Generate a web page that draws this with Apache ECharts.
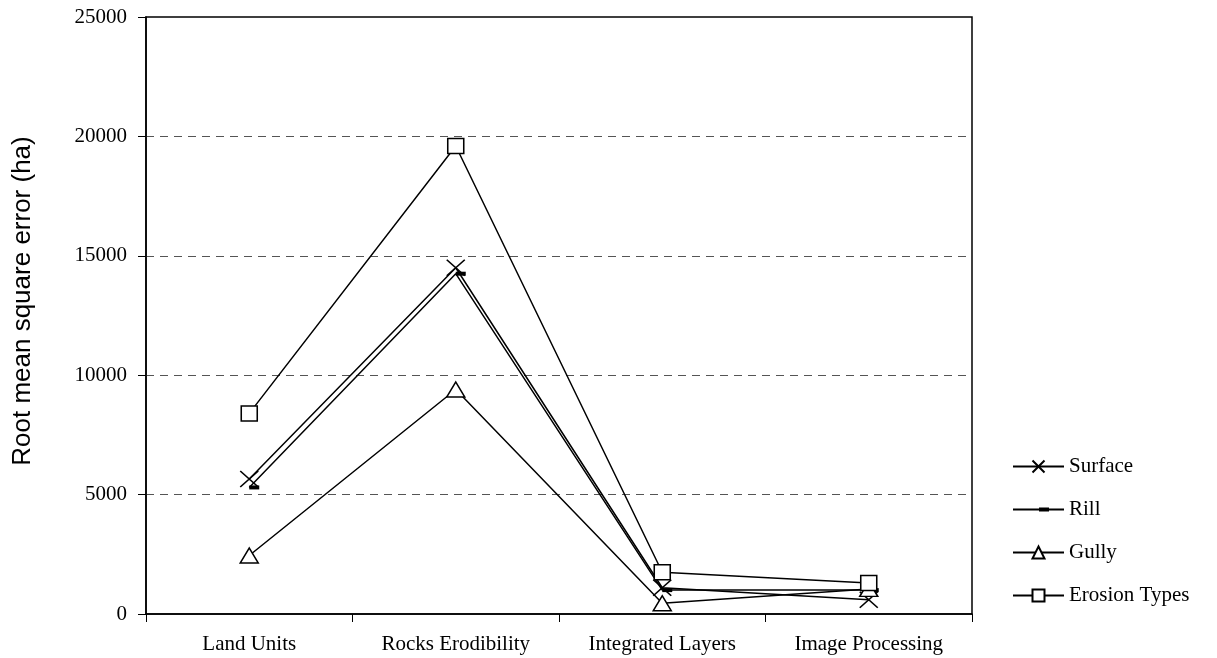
<!DOCTYPE html>
<html>
<head>
<meta charset="utf-8">
<script src="https://cdn.jsdelivr.net/npm/echarts@6/dist/echarts.min.js"></script>
<style>
  html, body { margin: 0; padding: 0; background: #fff; }
  #chart { width: 1217px; height: 658px; }
</style>
</head>
<body>
<div id="chart"></div>
<script>
// categories and series values
const categories = ['Land Units', 'Rocks Erodibility', 'Integrated Layers', 'Image Processing']
const surface = [5650, 14500, 1100, 600]
const rill = [5300, 14250, 1000, 1000]
const gully = [2450, 9400, 450, 1050]
const erosionTypes = [8400, 19600, 1750, 1300]
const yTicks = { min: 0, max: 25000, interval: 5000 }

const serif = 'Liberation Serif'
const black = '#000'

const chart = echarts.init(document.getElementById('chart'))

// common line look for every series
const baseSeries = (name, data, symbol, size, itemStyle, extra) => Object.assign({
  name: name,
  type: 'line',
  data: data,
  symbol: symbol,
  symbolSize: size,
  showAllSymbol: true,
  lineStyle: { color: black, width: 1.5 },
  itemStyle: itemStyle,
  emphasis: { disabled: true },
  z: 3
}, extra || {})

const option = {
  animation: false,
  backgroundColor: '#fff',
  grid: {
    left: 146,
    right: 245,
    top: 17,
    bottom: 44,
    show: true,
    borderColor: black,
    borderWidth: 1.5,
    backgroundColor: 'transparent'
  },
  legend: {
    orient: 'vertical',
    left: 1007,
    top: 451,
    itemWidth: 51,
    itemHeight: 15,
    itemGap: 22,
    textStyle: { fontFamily: serif, fontSize: 21, color: black },
    data: [
      'Surface',
      // thin line with a short thick dash, like the marker
      { name: 'Rill', icon: 'path://M0,1H51V3H0ZM26,0H36V4H26Z' },
      'Gully',
      'Erosion Types'
    ]
  },
  xAxis: {
    type: 'category',
    data: categories,
    boundaryGap: true,
    axisLine: { lineStyle: { color: black, width: 1.5 } },
    axisTick: { show: true, length: 8, lineStyle: { color: black } },
    axisLabel: { margin: 20, fontFamily: serif, fontSize: 21, color: black },
    splitLine: { show: false }
  },
  yAxis: {
    type: 'value',
    min: yTicks.min,
    max: yTicks.max,
    interval: yTicks.interval,
    axisLine: { show: true, lineStyle: { color: black, width: 1.5 } },
    axisTick: { show: true, length: 8, lineStyle: { color: black } },
    axisLabel: {
      margin: 19,
      fontFamily: serif,
      fontSize: 21,
      color: black,
      formatter: v => String(v)
    },
    splitLine: {
      show: true,
      showMinLine: false,
      showMaxLine: false,
      lineStyle: { color: '#555', width: 1, type: [8, 6] }
    }
  },
  graphic: [{
    type: 'text',
    x: 23,
    y: 301,
    rotation: Math.PI / 2,
    style: {
      text: 'Root mean square error (ha)',
      font: '26px "Liberation Sans"',
      fill: black,
      textAlign: 'center',
      textVerticalAlign: 'middle'
    }
  }],
  series: [
    baseSeries('Surface', surface, 'path://M0,0L20,17M20,0L0,17', [18, 16],
      { color: black, borderColor: black, borderWidth: 1.5 }),
    baseSeries('Rill', rill, 'rect', [10, 4],
      { color: black, borderWidth: 0 }, { symbolOffset: [5, 0] }),
    baseSeries('Gully', gully, 'triangle', [18, 15],
      { color: '#fff', borderColor: black, borderWidth: 1.5 }),
    baseSeries('Erosion Types', erosionTypes, 'rect', [16, 15],
      { color: '#fff', borderColor: black, borderWidth: 1.5 })
  ]
}

chart.setOption(option)
window.addEventListener('resize', () => chart && chart.resize())
</script>
</body>
</html>
